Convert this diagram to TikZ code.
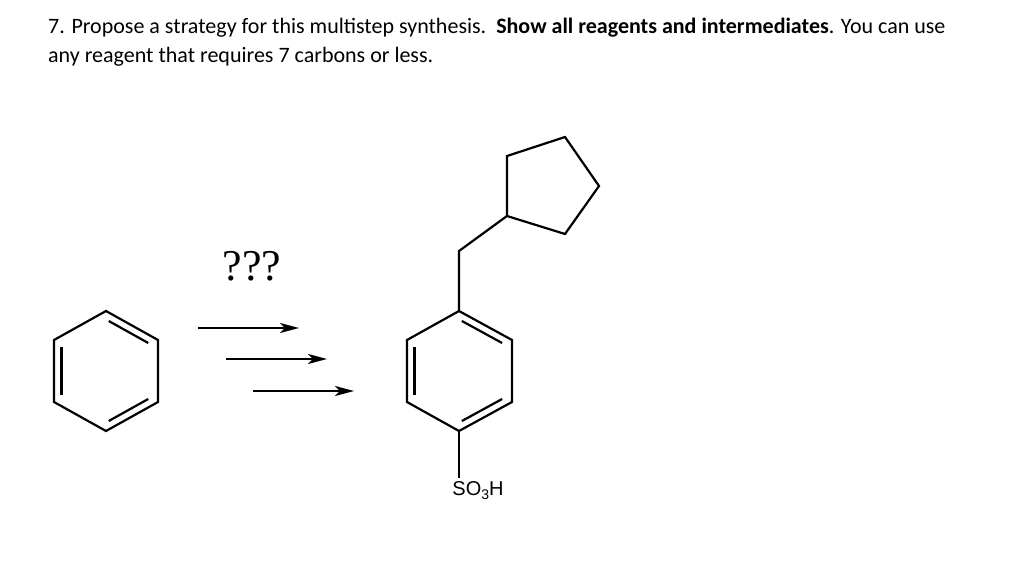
\documentclass[tikz,border=0pt]{standalone}
\usepackage{fontspec}
\setmainfont{Carlito}
\newfontfamily\arialf{Liberation Sans}
\newfontfamily\timesf{Liberation Serif}
\usetikzlibrary{arrows.meta,calc}
\begin{document}
\begin{tikzpicture}[x=1pt,y=-1pt,
  bond/.style={line width=2.2pt,line join=miter},
  rxn/.style={line width=2.2pt,-{Stealth[length=19pt,width=10pt,inset=5pt]}},
  hdr/.style={anchor=base west,inner sep=0pt,font=\fontsize{22}{26}\selectfont}]
\useasboundingbox (0,0) rectangle (1017,575);
\node[hdr] (l1) at (48,34) {7. Propose a strategy for this multistep synthesis.\ \ \textbf{Show all reagents and intermediates}. You can use};
\node[hdr] (l2) at (48,63) {any reagent that requires 7 carbons or less.};
% benzene
\foreach \n/\x/\y in {a/106/311,b/158/340,c/158/402,d/106/431,e/54/402,f/54/340}
  \coordinate (B\n) at (\x,\y);
\draw[bond] (Ba)--(Bb)--(Bc)--(Bd)--(Be)--(Bf)--cycle;
\draw[bond] ($(Ba)!0.12!(Bb)+(-3.5,6.5)$) -- ($(Ba)!0.88!(Bb)+(-3.5,6.5)$);
\draw[bond] ($(Bc)!0.12!(Bd)+(-3.5,-6.5)$) -- ($(Bc)!0.88!(Bd)+(-3.5,-6.5)$);
\draw[bond] ($(Be)!0.12!(Bf)+(7.5,0)$) -- ($(Be)!0.88!(Bf)+(7.5,0)$);
% arrows
\coordinate (a1s) at (198,328); \coordinate (a1e) at (299,328);
\coordinate (a2s) at (226,359); \coordinate (a2e) at (327,359);
\coordinate (a3s) at (253,391); \coordinate (a3e) at (354,391);
\draw[rxn] (a1s)--(a1e);
\draw[rxn] (a2s)--(a2e);
\draw[rxn] (a3s)--(a3e);
\node[font=\timesf\fontsize{44}{44}\selectfont] (q) at (252,266) {???};
% product ring
\foreach \n/\x/\y in {a/459/311,b/512/340,c/512/402,d/459/431,e/407/402,f/407/340}
  \coordinate (P\n) at (\x,\y);
\draw[bond] (Pa)--(Pb)--(Pc)--(Pd)--(Pe)--(Pf)--cycle;
\draw[bond] ($(Pa)!0.12!(Pb)+(-3.5,6.5)$) -- ($(Pa)!0.88!(Pb)+(-3.5,6.5)$);
\draw[bond] ($(Pc)!0.12!(Pd)+(-3.5,-6.5)$) -- ($(Pc)!0.88!(Pd)+(-3.5,-6.5)$);
\draw[bond] ($(Pe)!0.12!(Pf)+(7.5,0)$) -- ($(Pe)!0.88!(Pf)+(7.5,0)$);
\coordinate (ch2) at (459,251);
\foreach \n/\x/\y in {1/507/216,2/507/156,3/565/137,4/599/186,5/565/234}
  \coordinate (C\n) at (\x,\y);
\draw[bond] (Pa)--(ch2)--(C1);
\draw[bond] (C1)--(C2)--(C3)--(C4)--(C5)--cycle;
\node[font=\arialf\fontsize{20}{20}\selectfont,inner sep=1pt] (so3h) at (478,491) {SO{\fontsize{14}{14}\selectfont\raisebox{-4pt}{3}}H};
\draw[bond] (Pd)--(459,478);
\end{tikzpicture}
\end{document}
